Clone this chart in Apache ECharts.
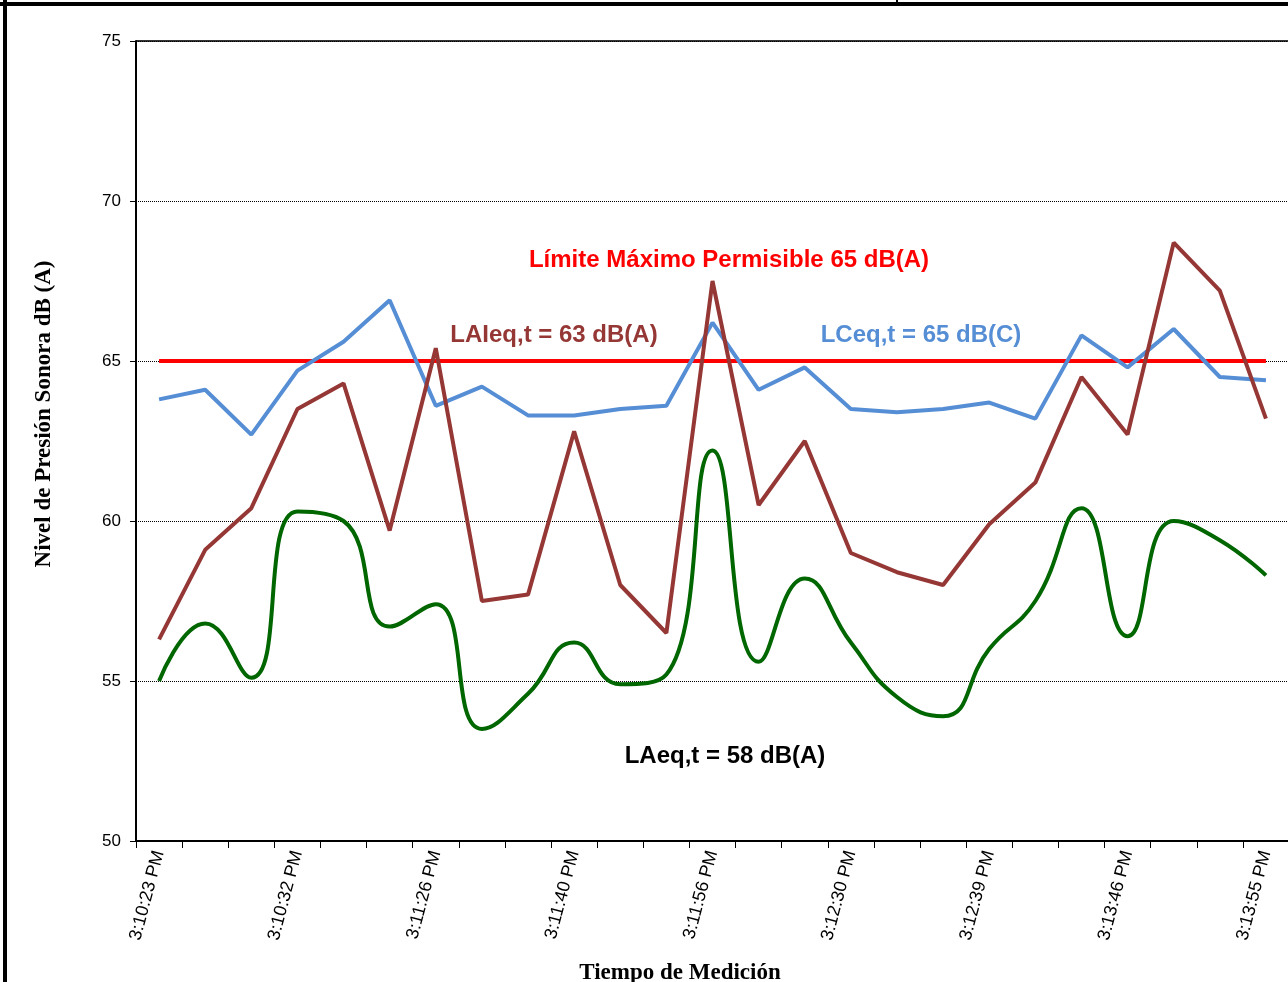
<!DOCTYPE html>
<html><head><meta charset="utf-8">
<script src="https://cdn.jsdelivr.net/npm/echarts@6/dist/echarts.min.js"></script>
<style>html,body{margin:0;padding:0;background:#fff}#c{width:1288px;height:982px}</style>
</head><body><div id="c"></div>
<script>
var categories = ['3:10:23 PM','3:10:26 PM','3:10:29 PM','3:10:32 PM','3:10:35 PM','3:10:38 PM','3:11:26 PM','3:11:29 PM','3:11:32 PM','3:11:40 PM','3:11:43 PM','3:11:46 PM','3:11:56 PM','3:11:59 PM','3:12:02 PM','3:12:30 PM','3:12:33 PM','3:12:36 PM','3:12:39 PM','3:12:42 PM','3:12:45 PM','3:13:46 PM','3:13:49 PM','3:13:52 PM','3:13:55 PM'];
var LAIeq = [56.3,59.1,60.4,63.5,64.3,59.7,65.4,57.5,57.7,62.8,58.0,56.5,67.5,60.5,62.5,59.0,58.4,58.0,59.9,61.2,64.5,62.7,68.7,67.2,63.2];
var LCeq = [63.8,64.1,62.7,64.7,65.6,66.9,63.6,64.2,63.3,63.3,63.5,63.6,66.2,64.1,64.8,63.5,63.4,63.5,63.7,63.2,65.8,64.8,66.0,64.5,64.4];
var LAeq = [55.0,56.8,55.1,60.3,60.0,56.7,57.4,53.5,54.6,56.2,54.9,55.2,62.2,55.6,58.2,56.2,54.5,53.9,56.0,57.5,60.4,56.4,60.0,59.4,58.3];
var limitValue = 65;
var yTicks = [50,55,60,65,70,75];

var chart = echarts.init(document.getElementById('c'), null, {renderer:'canvas'});
var lbl = function(txt, x, y, color){
  return {type:'text', x:x, y:y, style:{text:txt, fill:color, font:'bold 24px "Liberation Sans", Arial, sans-serif', align:'center', verticalAlign:'middle'}};
};
chart.setOption({
  animation:false,
  backgroundColor:'#fff',
  grid:{left:136, top:41, width:1153, height:800, containLabel:false, outerBoundsMode:'none'},
  xAxis:{
    type:'category', data:categories, boundaryGap:true,
    axisLine:{lineStyle:{color:'#000', width:2}},
    axisTick:{show:true, interval:0, length:7, inside:false, lineStyle:{color:'#000', width:1}},
    axisLabel:{interval:2, rotate:75, color:'#000', fontSize:18, fontFamily:'"Liberation Sans", Arial, sans-serif', margin:10},
    name:'Tiempo de Medición', nameLocation:'middle', nameGap:121,
    nameTextStyle:{fontFamily:'"Liberation Serif", "Times New Roman", serif', fontWeight:'bold', fontSize:23, color:'#000', padding:[0,0,0,-65]}
  },
  yAxis:{
    type:'value', min:yTicks[0], max:yTicks[yTicks.length-1], interval:5,
    axisLine:{show:true, lineStyle:{color:'#000', width:2}},
    axisTick:{show:true, length:6, lineStyle:{color:'#000'}},
    axisLabel:{color:'#000', fontSize:17, fontFamily:'"Liberation Sans", Arial, sans-serif', margin:15},
    splitLine:{show:true, lineStyle:{color:'#000', width:1, type:[1,1]}},
    name:'Nivel de Presión Sonora dB (A)', nameLocation:'middle', nameGap:80, nameRotate:90,
    nameTextStyle:{fontFamily:'"Liberation Serif", "Times New Roman", serif', fontWeight:'bold', fontSize:23, color:'#000', padding:[0,0,0,54]}
  },
  series:[
    {name:'Límite', type:'line', data:categories.map(function(){return limitValue;}), symbol:'none', lineStyle:{color:'#ff0000', width:4}, z:2},
    {name:'LAeq', type:'line', data:LAeq, smooth:0.5, symbol:'none', lineStyle:{color:'#006600', width:4}, z:3},
    {name:'LCeq', type:'line', data:LCeq, symbol:'none', lineStyle:{color:'#558ed5', width:4}, z:4},
    {name:'LAIeq', type:'line', data:LAIeq, symbol:'none', lineStyle:{color:'#953735', width:4}, z:5}
  ],
  graphic:[
    {type:'rect', shape:{x:3, y:0, width:4, height:982}, style:{fill:'#000'}},
    {type:'rect', shape:{x:0, y:2, width:1288, height:4}, style:{fill:'#000'}},
    {type:'rect', shape:{x:896, y:0, width:2, height:4}, style:{fill:'#000'}},
    {type:'line', shape:{x1:136, y1:41, x2:1288, y2:41}, style:{stroke:'#333', lineWidth:2}},
    lbl('Límite Máximo Permisible 65 dB(A)', 729, 260, '#ff0000'),
    lbl('LAIeq,t = 63 dB(A)', 554, 335, '#953735'),
    lbl('LCeq,t = 65 dB(C)', 921, 335, '#558ed5'),
    lbl('LAeq,t = 58 dB(A)', 725, 756, '#000')
  ]
});
</script></body></html>
